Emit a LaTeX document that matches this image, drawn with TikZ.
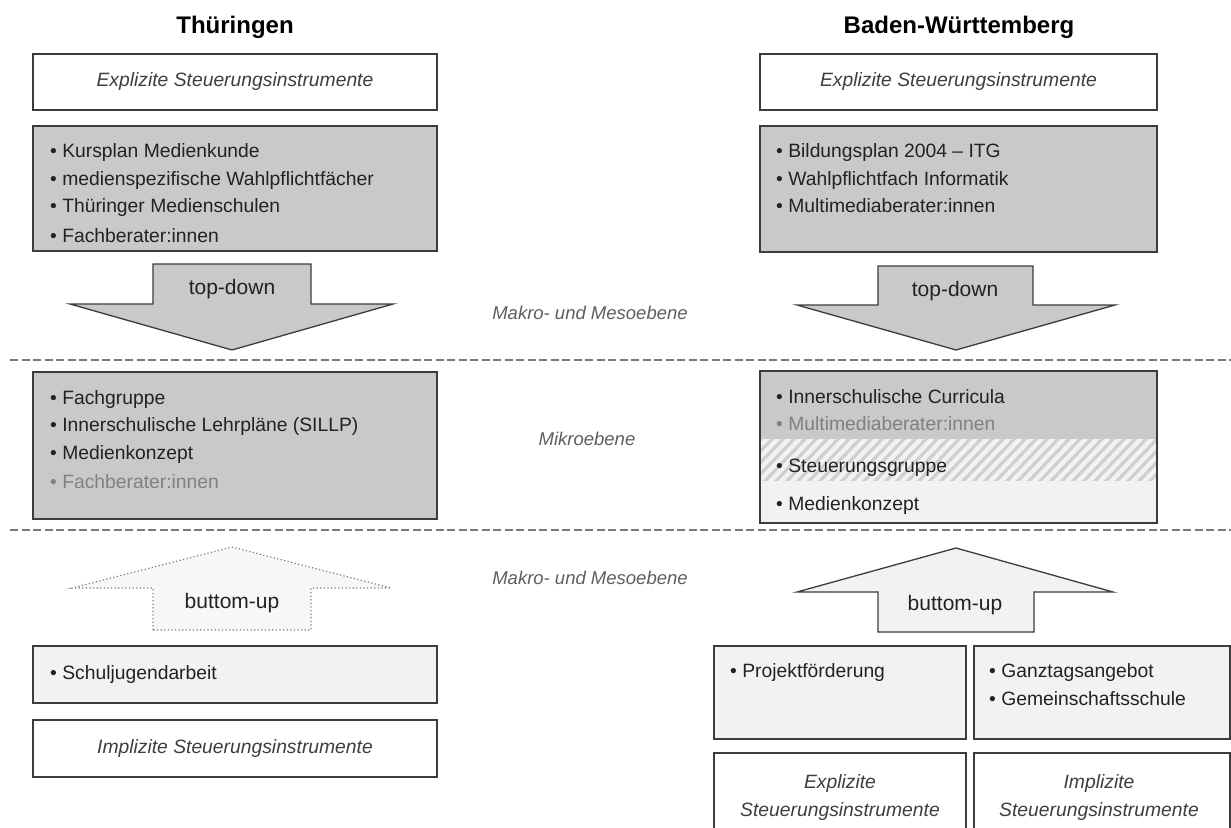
\documentclass[tikz,border=0pt]{standalone}
\usepackage{fontspec}
\setmainfont{Liberation Sans}
\definecolor{boxline}{HTML}{3C3C3C}
\definecolor{darkfill}{HTML}{C9C9C9}
\definecolor{lightfill}{HTML}{F2F2F2}
\definecolor{hatchline}{HTML}{CFCFCF}
\definecolor{labelgray}{HTML}{5E5E5E}
\definecolor{boxitalic}{HTML}{3E3E3E}
\definecolor{fadedtext}{HTML}{808080}
\definecolor{sepline}{HTML}{7A7A7A}
\definecolor{bodytext}{HTML}{222222}
\newcommand{\bodyfont}{\fontsize{19.3}{23}\selectfont}
\begin{document}
\begin{tikzpicture}[x=1pt,y=-1pt,
  title/.style={font=\fontsize{24}{28}\selectfont\bfseries, text=black, inner sep=0},
  framebox/.style={draw=boxline, line width=1.4pt, inner sep=0, rectangle},
  whitebox/.style={framebox, fill=white},
  darkbox/.style={framebox, fill=darkfill},
  lightbox/.style={framebox, fill=lightfill},
  italictext/.style={font=\bodyfont\itshape, text=boxitalic},
  item/.style={font=\bodyfont, text=bodytext, inner sep=0, anchor=west,
    text height=13.5pt, text depth=0pt},
  faded/.style={item, text=fadedtext},
  level/.style={font=\fontsize{18.5}{22}\selectfont\itshape, text=labelgray, inner sep=0},
  arrowlabel/.style={font=\fontsize{21}{25}\selectfont, text=bodytext, inner sep=0},
  separator/.style={draw=sepline, line width=1.8pt, dash pattern=on 8pt off 3.5pt},
  solidarrow/.style={draw=boxline, line width=1.3pt, line join=miter},
  dottedarrow/.style={draw=sepline, line width=1.2pt, dash pattern=on 1.2pt off 2.4pt}
]
\useasboundingbox (0,0) rectangle (1231,827);
\clip (0,0) rectangle (1231,827);

% ---------- level separators ----------
\coordinate (sepAw) at (10,360);  \coordinate (sepAe) at (1231,360);
\coordinate (sepBw) at (10,530);  \coordinate (sepBe) at (1231,530);
\draw[separator] (sepAw) -- (sepAe);
\draw[separator] (sepBw) -- (sepBe);

% ---------- level labels ----------
\node[level] (lvlTop) at (590,313) {Makro- und Mesoebene};
\node[level] (lvlMid) at (587,439) {Mikroebene};
\node[level] (lvlBot) at (590,578) {Makro- und Mesoebene};

% ================= Thüringen =================
\node[title] (thTitle) at (235,27) {Thüringen};

\node[whitebox, minimum width=404pt, minimum height=56pt] (thExp) at (235,82)
  {\color{boxitalic}\bodyfont\itshape Explizite Steuerungsinstrumente};

\node[darkbox, minimum width=404pt, minimum height=125pt] (thInstr) at (235,188.5) {};
\node[item] (thI1) at (50,151) {• Kursplan Medienkunde};
\node[item] (thI2) at (50,179) {• medienspezifische Wahlpflichtfächer};
\node[item] (thI3) at (50,206) {• Thüringer Medienschulen};
\node[item] (thI4) at (50,236) {• Fachberater:innen};

% top-down arrow
\filldraw[solidarrow, fill=darkfill]
  (153,264) -- (311,264) -- (311,304) -- (393,304) -- (232,350)
  -- (70,304) -- (153,304) -- cycle;
\node[arrowlabel] (thDown) at (232,289) {top-down};

\node[darkbox, minimum width=404pt, minimum height=147pt] (thMikro) at (235,445.5) {};
\node[item] (thM1) at (50,398) {• Fachgruppe};
\node[item] (thM2) at (50,425) {• Innerschulische Lehrpläne (SILLP)};
\node[item] (thM3) at (50,453) {• Medienkonzept};
\node[faded] (thM4) at (50,482) {• Fachberater:innen};

% bottom-up arrow (dotted outline)
\filldraw[dottedarrow, fill=lightfill!60!white]
  (153,630) -- (153,588) -- (72,588) -- (232,547) -- (391,588)
  -- (311,588) -- (311,630) -- cycle;
\node[arrowlabel] (thUp) at (232,603) {buttom-up};

\node[lightbox, minimum width=404pt, minimum height=57pt] (thSchul) at (235,674.5) {};
\node[item] (thS1) at (50,673) {• Schuljugendarbeit};

\node[whitebox, minimum width=404pt, minimum height=57pt] (thImpl) at (235,748.5)
  {\color{boxitalic}\bodyfont\itshape Implizite Steuerungsinstrumente};

% ================= Baden-Württemberg =================
\node[title] (bwTitle) at (959,27) {Baden-Württemberg};

\node[whitebox, minimum width=397pt, minimum height=56pt] (bwExp) at (958.5,82)
  {\color{boxitalic}\bodyfont\itshape Explizite Steuerungsinstrumente};

\node[darkbox, minimum width=397pt, minimum height=126pt] (bwInstr) at (958.5,189) {};
\node[item] (bwI1) at (776,151) {• Bildungsplan 2004 – ITG};
\node[item] (bwI2) at (776,179) {• Wahlpflichtfach Informatik};
\node[item] (bwI3) at (776,206) {• Multimediaberater:innen};

% top-down arrow
\filldraw[solidarrow, fill=darkfill]
  (878,266) -- (1033,266) -- (1033,305) -- (1115,305) -- (956,350)
  -- (797,305) -- (878,305) -- cycle;
\node[arrowlabel] (bwDown) at (955,291) {top-down};

% micro level box: grey band, hatched band, light band
\fill[darkfill] (760,371) rectangle (1157,439);
\fill[lightfill] (760,439) rectangle (1157,523);
\begin{scope}
  \clip (760,439) rectangle (1157,480);
  \foreach \k in {0,...,42} {
    \draw[hatchline, line width=3.2pt] (720+\k*11,482) -- (763+\k*11,437);
  }
\end{scope}
\node[framebox, minimum width=397pt, minimum height=152pt] (bwMikro) at (958.5,447) {};
\node[item] (bwM1) at (776,397) {• Innerschulische Curricula};
\node[faded] (bwM2) at (776,424) {• Multimediaberater:innen};
\node[item] (bwM3) at (776,466) {• Steuerungsgruppe};
\node[item] (bwM4) at (776,504) {• Medienkonzept};

% bottom-up arrow
\filldraw[solidarrow, fill=lightfill]
  (878,632) -- (878,592) -- (797,592) -- (956,548) -- (1113,592)
  -- (1034,592) -- (1034,632) -- cycle;
\node[arrowlabel] (bwUp) at (955,605) {buttom-up};

\node[lightbox, minimum width=252pt, minimum height=93pt] (bwProj) at (840,692.5) {};
\node[item] (bwP1) at (730,671) {• Projektförderung};
\node[lightbox, minimum width=256pt, minimum height=93pt] (bwGanz) at (1102,692.5) {};
\node[item] (bwG1) at (989,671) {• Ganztagsangebot};
\node[item] (bwG2) at (989,699) {• Gemeinschaftsschule};

\node[whitebox, minimum width=252pt, minimum height=110pt] (bwExpB) at (840,808) {};
\node[italictext, align=center, font=\fontsize{19.3}{28}\selectfont\itshape]
  (bwExpBt) at (840,797) {Explizite\\Steuerungsinstrumente};
\node[whitebox, minimum width=256pt, minimum height=110pt] (bwImplB) at (1102,808) {};
\node[italictext, align=center, font=\fontsize{19.3}{28}\selectfont\itshape]
  (bwImplBt) at (1099,797) {Implizite\\Steuerungsinstrumente};
\end{tikzpicture}
\end{document}
